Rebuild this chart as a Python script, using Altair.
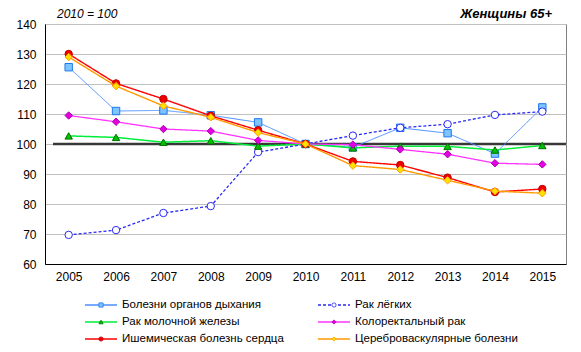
import altair as alt
import pandas as pd

FONT = "Liberation Sans"

years = ["2005", "2006", "2007", "2008", "2009", "2010", "2011", "2012", "2013", "2014", "2015"]

series_names = [
    "Болезни органов дыхания",
    "Рак лёгких",
    "Рак молочной железы",
    "Колоректальный рак",
    "Ишемическая болезнь сердца",
    "Цереброваскулярные болезни",
]

resp = [125.6, 111.0, 111.2, 109.6, 107.2, 100.0, 98.9, 105.4, 103.6, 96.8, 112.2]
lung = [69.7, 71.3, 77.0, 79.3, 97.3, 100.0, 102.8, 105.4, 106.6, 109.7, 110.8]
breast = [102.7, 102.2, 100.6, 101.1, 99.3, 100.0, 98.7, 99.3, 99.2, 98.0, 99.5]
colorectal = [109.5, 107.4, 105.0, 104.3, 101.2, 100.0, 99.8, 98.2, 96.6, 93.6, 93.2]
ihd = [130.0, 120.2, 115.0, 109.4, 104.6, 100.0, 94.2, 93.0, 88.8, 84.0, 85.0]
cereb = [129.0, 119.3, 112.7, 108.9, 103.8, 100.0, 92.8, 91.5, 87.9, 84.3, 83.6]

values = [resp, lung, breast, colorectal, ihd, cereb]

legend_cols = [0, 1, 0, 1, 0, 1]
legend_rows = [0, 0, 1, 1, 2, 2]

baseline_value = [100]
y_ticks = [60, 70, 80, 90, 100, 110, 120, 130, 140]

# styles (line colour, width, dash, marker shape, fill, stroke)
styles = {
    "Болезни органов дыхания": dict(line="#4A90FF", lw=1.0, dash=[1, 0], shape="square", fill="#7EC4FF", stroke="#1E78F0"),
    "Рак лёгких": dict(line="#2A2AF5", lw=1.3, dash=[3, 2], shape="circle", fill="#FFFFFF", stroke="#2A2AF5"),
    "Рак молочной железы": dict(line="#00EE3A", lw=1.5, dash=[1, 0], shape="triangle-up", fill="#00C000", stroke="#007000"),
    "Колоректальный рак": dict(line="#FF33FF", lw=1.3, dash=[1, 0], shape="diamond", fill="#E000E0", stroke="#B000B0"),
    "Ишемическая болезнь сердца": dict(line="#FF0000", lw=1.4, dash=[1, 0], shape="circle", fill="#F00000", stroke="#C00000"),
    "Цереброваскулярные болезни": dict(line="#FF9900", lw=1.4, dash=[1, 0], shape="diamond", fill="#FFE000", stroke="#FFA000"),
}

x_enc = alt.X("year:O", scale=alt.Scale(type="point", padding=0.5, domain=years),
              axis=alt.Axis(title=None, ticks=False, labelPadding=7, labelAngle=0, grid=False,
                            domainColor="black", labelFontSize=12, labelFont=FONT, labelColor="black"))
y_scale = alt.Scale(domain=[60, 140], nice=False, zero=False)
y_axis = alt.Axis(title=None, values=y_ticks, ticks=False, labelPadding=9, grid=True,
                  gridColor="#C0C0C0", gridWidth=1, domainColor="black",
                  labelFontSize=12, labelFont=FONT, labelColor="black")
y_enc = alt.Y("value:Q", scale=y_scale, axis=y_axis)

base_rule = alt.Chart(pd.DataFrame({"value": baseline_value})).mark_rule(color="#383838", strokeWidth=2.5).encode(
    y=y_enc, x=alt.value(8), x2=alt.value(521))

series_layers = []
for name, vals in zip(series_names, values):
    st = styles[name]
    d = pd.DataFrame({"year": years, "value": vals, "series": name})
    line = alt.Chart(d).mark_line(color=st["line"], strokeWidth=st["lw"], strokeDash=st["dash"]).encode(x=x_enc, y=y_enc)
    pts = alt.Chart(d).mark_point(shape=st["shape"], filled=True, fill=st["fill"], stroke=st["stroke"],
                                  strokeWidth=1, opacity=1, size=55).encode(x=x_enc, y=y_enc)
    series_layers += [line, pts]

one = pd.DataFrame({"k": [0]})
title_left = alt.Chart(one).mark_text(text="2010 = 100", font=FONT, fontSize=12, fontStyle="italic",
                                      align="left", baseline="middle", color="black").encode(
    x=alt.value(12), y=alt.value(-10))
title_right = alt.Chart(one).mark_text(text="Женщины 65+", font=FONT, fontSize=13, fontStyle="italic",
                                       fontWeight="bold", align="right", baseline="middle", color="black").encode(
    x=alt.value(507), y=alt.value(-10))

main = alt.layer(base_rule, *series_layers, title_left, title_right)

lx = alt.X("col:Q", scale=alt.Scale(domain=[0, 1], range=[56, 289], nice=False, zero=False), axis=None)
ly = alt.Y("row:Q", scale=alt.Scale(domain=[0, 2], range=[281, 315], nice=False, zero=False), axis=None)

legend_layers = []
for name, c, r in zip(series_names, legend_cols, legend_rows):
    st = styles[name]
    d = pd.DataFrame({"col": [c], "row": [r], "label": [name]})
    lr = alt.Chart(d).mark_rule(color=st["line"], strokeWidth=1.3, strokeDash=st["dash"],
                                xOffset=-16, x2Offset=16).encode(x=lx, x2="col:Q", y=ly)
    lp = alt.Chart(d).mark_point(shape=st["shape"], filled=True, fill=st["fill"], stroke=st["stroke"],
                                 strokeWidth=0.8, opacity=1, size=18).encode(x=lx, y=ly)
    lt = alt.Chart(d).mark_text(font=FONT, fontSize=11.5, align="left", baseline="middle", dx=21,
                                color="black").encode(x=lx, y=ly, text="label:N")
    legend_layers += [lr, lp, lt]

legend = alt.layer(*legend_layers)

chart = alt.layer(main, legend).resolve_scale(x="independent", y="independent").properties(
    width=521, height=240,
    autosize=alt.AutoSizeParams(type="none"),
    padding={"left": 45, "top": 24, "right": 15, "bottom": 88},
    background="white",
).configure_view(stroke="#808080", strokeWidth=1)

chart.save("out.html", embed_options={"renderer": "svg", "actions": False})
